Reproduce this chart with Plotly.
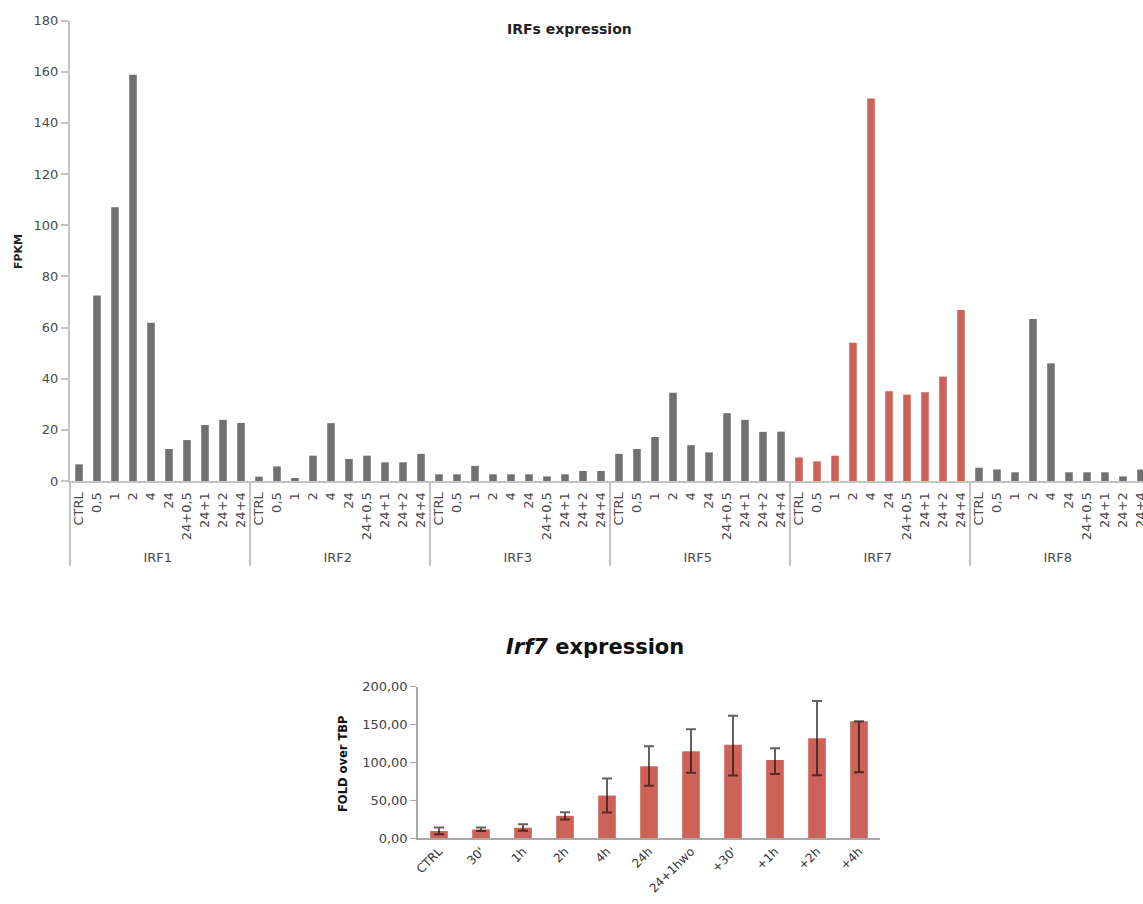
import plotly.graph_objects as go

# ---------------- data ----------------
genes = ["IRF1", "IRF2", "IRF3", "IRF5", "IRF7", "IRF8"]
timepoints = ["CTRL", "0,5", "1", "2", "4", "24", "24+0,5", "24+1", "24+2", "24+4"]

irf1 = [6.5, 72.5, 107.0, 158.8, 61.9, 12.5, 16.0, 21.9, 23.9, 22.7]
irf2 = [1.7, 5.7, 1.2, 9.9, 22.6, 8.6, 9.9, 7.3, 7.3, 10.6]
irf3 = [2.6, 2.6, 5.9, 2.6, 2.6, 2.6, 1.8, 2.6, 3.9, 3.9]
irf5 = [10.6, 12.5, 17.2, 34.5, 14.0, 11.2, 26.5, 23.9, 19.2, 19.3]
irf7 = [9.2, 7.7, 9.9, 54.0, 149.5, 35.1, 33.8, 34.7, 40.8, 66.8]
irf8 = [5.2, 4.5, 3.4, 63.3, 46.0, 3.4, 3.4, 3.4, 1.8, 4.5]
highlight_gene = "IRF7"

qpcr_labels = ["CTRL", "30'", "1h", "2h", "4h", "24h", "24+1hwo", "+30'", "+1h", "+2h", "+4h"]
qpcr_mean = [9.3, 11.3, 13.5, 29.3, 56.0, 94.8, 114.4, 123.0, 103.0, 131.6, 154.0]
qpcr_err_plus = [4.7, 2.5, 4.8, 4.8, 22.6, 26.2, 29.3, 38.4, 15.4, 49.4, 0.0]
qpcr_err_minus = [4.5, 2.0, 4.0, 5.0, 22.4, 25.8, 28.4, 40.5, 18.4, 48.7, 67.2]

# ---------------- styles ----------------
W, H = 1143, 904
GRAY_BAR = "#707070"
RED_BAR = "#CD6358"
AXIS_COL = "#c4c4c4"
TXT = "#4a4a4a"
FONT = "DejaVu Sans"

series = [irf1, irf2, irf3, irf5, irf7, irf8]
grp, tp, vals, cols = [], [], [], []
for g, s in zip(genes, series):
    for t, v in zip(timepoints, s):
        grp.append(g)
        tp.append(t)
        vals.append(v)
        cols.append(RED_BAR if g == highlight_gene else GRAY_BAR)

def px_x(p):
    return p / W

def px_y(p):
    return 1 - p / H

fig = go.Figure()

fig.add_trace(go.Bar(
    x=[grp, tp], y=vals,
    marker=dict(color=cols, line=dict(width=0)),
    width=0.42,
    xaxis="x", yaxis="y",
    showlegend=False,
))

fig.add_trace(go.Bar(
    x=qpcr_labels, y=qpcr_mean,
    marker=dict(color=RED_BAR, line=dict(width=0)),
    width=0.42,
    error_y=dict(type="data", symmetric=False, array=qpcr_err_plus,
                 arrayminus=qpcr_err_minus, color="rgba(20,10,10,0.65)",
                 thickness=2, width=5),
    xaxis="x2", yaxis="y2",
    showlegend=False,
))

visible = (W - 70) / 18.0  # categories visible in the cropped window
fig.update_layout(
    width=W, height=H,
    margin=dict(l=0, r=0, t=0, b=0),
    paper_bgcolor="white", plot_bgcolor="white",
    separators=",.",
    font=dict(family=FONT, color=TXT),
    xaxis=dict(
        domain=[px_x(70), 1.0],
        type="multicategory",
        range=[-0.5, -0.5 + visible],
        showline=True, linecolor=AXIS_COL, linewidth=2,
        showgrid=False, ticks="",
        tickangle=-90,
        ticklabelstandoff=4,
        tickfont=dict(size=13, color=TXT, family=FONT),
        showdividers=True, dividercolor=AXIS_COL, dividerwidth=2,
        automargin=False,
    ),
    yaxis=dict(
        domain=[px_y(481), px_y(20.5)],
        range=[0, 180], dtick=20,
        showline=True, linecolor=AXIS_COL, linewidth=2,
        showgrid=False, zeroline=False,
        ticks="outside", ticklen=7, tickwidth=1.5, tickcolor=AXIS_COL,
        tickfont=dict(size=13, color=TXT, family=FONT),
        automargin=False,
    ),
    xaxis2=dict(
        domain=[px_x(418), px_x(880)],
        anchor="y2",
        showline=True, linecolor="#a8a8a8", linewidth=1.5,
        showgrid=False, ticks="",
        tickangle=-45,
        tickfont=dict(size=12, color="#333333", family=FONT),
        automargin=False,
    ),
    yaxis2=dict(
        domain=[px_y(838), px_y(686.5)],
        anchor="x2",
        range=[0, 200], dtick=50, tickformat=".2f",
        showline=True, linecolor="#a8a8a8", linewidth=1.5,
        showgrid=False, zeroline=False,
        ticks="outside", ticklen=6, tickwidth=1.2, tickcolor="#a8a8a8",
        tickfont=dict(size=13, color="#444444", family=FONT),
        automargin=False,
    ),
    annotations=[
        dict(text="<b>IRFs expression</b>", x=px_x(569), y=px_y(29),
             xref="paper", yref="paper", showarrow=False,
             xanchor="center", yanchor="middle",
             font=dict(size=14, color="#222222", family=FONT)),
        dict(text="<b>FPKM</b>", x=px_x(18), y=px_y(252),
             xref="paper", yref="paper", showarrow=False, textangle=-90,
             xanchor="center", yanchor="middle",
             font=dict(size=11, color="#222222", family=FONT)),
        dict(text="<b><i>Irf7</i> expression</b>", x=px_x(595), y=px_y(647),
             xref="paper", yref="paper", showarrow=False,
             xanchor="center", yanchor="middle",
             font=dict(size=21, color="#111111", family=FONT)),
        dict(text="<b>FOLD over TBP</b>", x=px_x(343), y=px_y(764),
             xref="paper", yref="paper", showarrow=False, textangle=-90,
             xanchor="center", yanchor="middle",
             font=dict(size=11.5, color="#111111", family=FONT)),
    ],
)

fig.write_html(
    "out.html",
    config={"displayModeBar": False},
    post_script="document.body.style.margin='0';document.body.style.overflow='hidden';",
)
